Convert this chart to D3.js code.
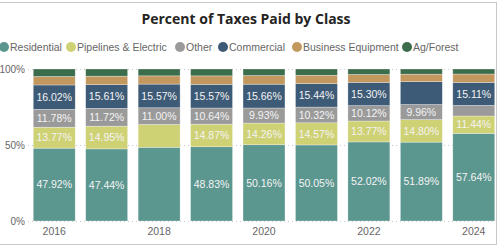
<!DOCTYPE html>
<html>
<head>
<meta charset="utf-8">
<script src="https://cdn.jsdelivr.net/npm/d3@7"></script>
<style>
  html,body{margin:0;padding:0;background:#fff;}
  svg{display:block;}
  .lbl{font-family:"Liberation Sans",Arial,sans-serif;}
</style>
</head>
<body>
<svg width="500" height="246"></svg>
<script>
// data ..........................................................................
var years = ["2016","2017","2018","2019","2020","2021","2022","2023","2024"];
var classes = ["Residential","Pipelines & Electric","Other","Commercial","Business Equipment","Ag/Forest"];
var colors = ["#5b968f","#cfd175","#9a9a9a","#3d5a76","#c3985f","#3b6c4c"];

var residential = [47.92, 47.44, 48.50, 48.83, 50.16, 50.05, 52.02, 51.89, 57.64];
var pipelines   = [13.77, 14.95, 15.00, 14.87, 14.26, 14.57, 13.77, 14.80, 11.44];
var other       = [11.78, 11.72, 11.00, 10.64,  9.93, 10.32, 10.12,  9.96,  7.00];
var commercial  = [16.02, 15.61, 15.57, 15.57, 15.66, 15.44, 15.30, 15.00, 15.11];
var businessEq  = [ 5.60,  5.58,  5.43,  5.59,  5.69,  5.52,  5.19,  4.95,  5.51];
var agForest    = [ 4.91,  4.70,  4.50,  4.50,  4.30,  4.10,  3.60,  3.40,  3.30];

var yTicks = [0, 50, 100];
var xTicks = ["2016","2018","2020","2022","2024"];
var labelled = ["Residential","Pipelines & Electric","Other","Commercial"];//only these get data labels
var hiddenLabels = [["2018","Residential"],["2018","Pipelines & Electric"],["2023","Commercial"],["2024","Other"]];//labels the chart drops

var seriesValues = [residential, pipelines, other, commercial, businessEq, agForest];
var table = years.map((y,i)=>{
    var row = {year:y};
    classes.forEach((c,k)=>{ row[c] = seriesValues[k][i]; });
    return row;
});

var svg = d3.select("svg");
var width = +svg.attr("width");
var height = +svg.attr("height");

// frame
svg.append("rect")
    .attr("x",-2).attr("y",2.5)
    .attr("width",498.5).attr("height",242)
    .attr("fill","none")
    .attr("stroke","#c8c8c8")
    .attr("stroke-width",1);

// title
svg.append("text")
    .attr("x",246).attr("y",24)
    .attr("text-anchor","middle")
    .style("font-family","'Open Sans',sans-serif")
    .style("font-weight",700)
    .style("font-size","14px")
    .attr("fill","#252423")
    .text("Percent of Taxes Paid by Class");

// legend ........................................................................
var legendX = [4, 71, 180, 223, 297, 407];//circle centres
var lg = svg.append("g").selectAll("g")
    .data(classes)
    .enter()
    .append("g")
    .attr("transform",(d,i)=>"translate("+legendX[i]+",47)");
lg.append("circle")
    .attr("r",5)
    .attr("fill",(d,i)=>colors[i]);
lg.append("text")
    .attr("class","lbl")
    .attr("x",6)
    .attr("y",4)
    .style("font-size","10.5px")
    .attr("fill","#666")
    .text(d=>d);

// scales ........................................................................
var xScale = d3.scaleBand()
    .domain(years)
    .range([28,500])
    .paddingInner(0.2)
    .paddingOuter(0.1);
var yScale = d3.scaleLinear()
    .domain([0,100])
    .range([221,69]);

// gridlines (dotted)
svg.append("g").selectAll("line")
    .data(yTicks)
    .enter()
    .append("line")
    .attr("x1",28).attr("x2",497)
    .attr("y1",d=>yScale(d)+0.5).attr("y2",d=>yScale(d)+0.5)
    .attr("stroke","#c8c8c8")
    .attr("stroke-dasharray","1,3");

// y axis
var yAxis = d3.axisLeft(yScale)
    .tickValues(yTicks)
    .tickSize(0)
    .tickPadding(0)
    .tickFormat(d=>d+"%");
svg.append("g")
    .attr("transform","translate(25,0)")
    .call(yAxis)
    .attr("font-family",null)
    .call(g=>g.select(".domain").remove())
    .selectAll("text")
    .attr("class","lbl")
    .style("font-size","10px")
    .attr("fill","#666");

// x axis
var xAxis = d3.axisBottom(xScale)
    .tickValues(xTicks)
    .tickSize(0)
    .tickPadding(0);
svg.append("g")
    .attr("transform","translate(0,228)")
    .call(xAxis)
    .attr("font-family",null)
    .call(g=>g.select(".domain").remove())
    .selectAll("text")
    .attr("class","lbl")
    .style("font-size","10.5px")
    .attr("fill","#666");

// stacked bars ..................................................................
var stack = d3.stack().keys(classes);
var layers = stack(table);

var gs = svg.append("g").selectAll("g")
    .data(layers)
    .enter()
    .append("g")
    .attr("fill",(d,i)=>colors[i]);

gs.selectAll("rect")
    .data(d=>d.map(p=>({key:d.key,p:p})))
    .enter()
    .append("rect")
    .attr("x",d=>xScale(d.p.data.year))
    .attr("y",d=>yScale(d.p[1]))
    .attr("width",xScale.bandwidth())
    .attr("height",d=>yScale(d.p[0])-yScale(d.p[1]))
    .attr("stroke","#ffffff")
    .attr("stroke-opacity",0.5)
    .attr("stroke-width",0.6);

// data labels
var isHidden = (y,k)=>hiddenLabels.some(h=>h[0]==y && h[1]==k);
gs.filter(d=>labelled.indexOf(d.key)>=0)
    .selectAll("text")
    .data(d=>d.map(p=>({key:d.key,p:p})).filter(d=>!isHidden(d.p.data.year,d.key)))
    .enter()
    .append("text")
    .attr("class","lbl")
    .attr("x",d=>xScale(d.p.data.year)+xScale.bandwidth()/2)
    .attr("y",d=>(yScale(d.p[0])+yScale(d.p[1]))/2)
    .attr("dy","0.35em")
    .attr("text-anchor","middle")
    .style("font-size","10.5px")
    .attr("fill","#f4f4f4")
    .text(d=>d3.format(".2f")(d.p.data[d.key])+"%");
</script>
</body>
</html>
